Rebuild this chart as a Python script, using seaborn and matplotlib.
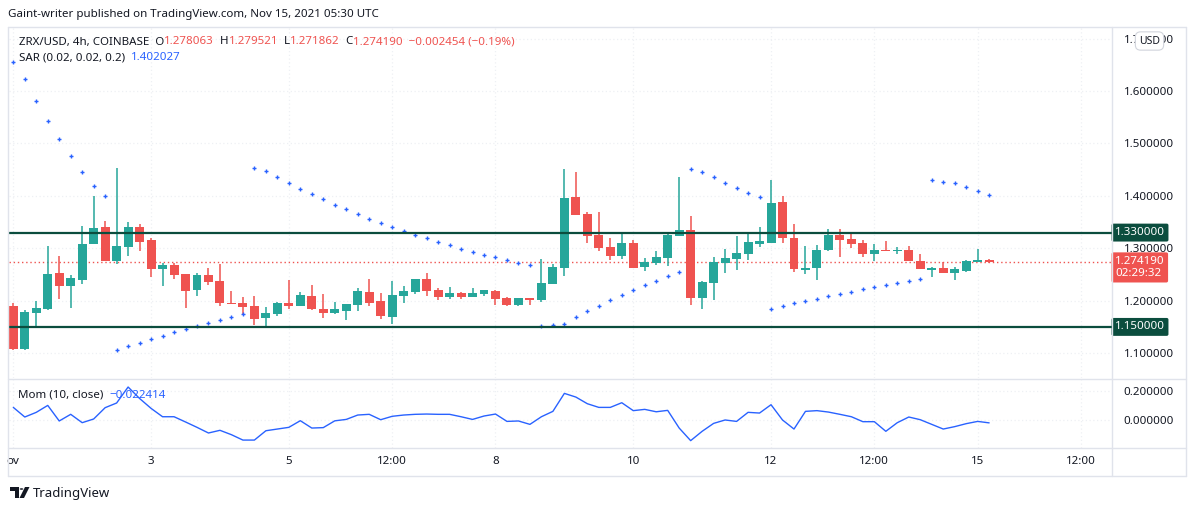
import numpy as np
import matplotlib
matplotlib.use("Agg")
import matplotlib.pyplot as plt
import seaborn as sns
from matplotlib.lines import Line2D
from matplotlib.patches import Polygon, Circle

# 4h candles, ZRX/USD, 1 Nov 00:00 -> 15 Nov 04:00
opens = [1.190, 1.108, 1.177, 1.184, 1.253, 1.229, 1.240, 1.308, 1.341, 1.276,
         1.303, 1.341, 1.316, 1.261, 1.268, 1.251, 1.221, 1.249, 1.238, 1.196,
         1.196, 1.190, 1.167, 1.175, 1.196, 1.190, 1.209, 1.184, 1.177, 1.180,
         1.192, 1.217, 1.200, 1.169, 1.209, 1.217, 1.242, 1.221, 1.207, 1.215,
         1.207, 1.213, 1.219, 1.205, 1.192, 1.205, 1.201, 1.232, 1.262, 1.398,
         1.365, 1.325, 1.303, 1.285, 1.310, 1.264, 1.272, 1.282, 1.324, 1.335,
         1.205, 1.234, 1.272, 1.280, 1.289, 1.308, 1.310, 1.388, 1.320, 1.259,
         1.262, 1.297, 1.325, 1.318, 1.310, 1.289, 1.297, 1.295, 1.297, 1.276,
         1.259, 1.262, 1.253, 1.257, 1.274, 1.278063]
highs = [1.195, 1.182, 1.200, 1.304, 1.285, 1.249, 1.343, 1.400, 1.352, 1.453,
         1.350, 1.346, 1.320, 1.272, 1.272, 1.251, 1.253, 1.262, 1.270, 1.219,
         1.207, 1.209, 1.188, 1.198, 1.240, 1.217, 1.230, 1.213, 1.198, 1.194,
         1.224, 1.242, 1.215, 1.238, 1.228, 1.242, 1.253, 1.224, 1.226, 1.217,
         1.224, 1.221, 1.221, 1.207, 1.205, 1.205, 1.280, 1.270, 1.451, 1.446,
         1.369, 1.369, 1.320, 1.327, 1.316, 1.282, 1.295, 1.327, 1.436, 1.362,
         1.238, 1.283, 1.299, 1.324, 1.327, 1.341, 1.430, 1.400, 1.347, 1.304,
         1.306, 1.337, 1.337, 1.327, 1.316, 1.308, 1.314, 1.303, 1.304, 1.289,
         1.264, 1.274, 1.264, 1.278, 1.299, 1.279521]
lows = [1.106, 1.106, 1.151, 1.182, 1.203, 1.186, 1.231, 1.308, 1.276, 1.270,
        1.285, 1.295, 1.245, 1.228, 1.242, 1.186, 1.209, 1.230, 1.190, 1.194,
        1.175, 1.154, 1.152, 1.171, 1.184, 1.190, 1.182, 1.167, 1.175, 1.163,
        1.180, 1.190, 1.165, 1.156, 1.196, 1.213, 1.209, 1.201, 1.203, 1.203,
        1.207, 1.209, 1.192, 1.190, 1.190, 1.192, 1.198, 1.232, 1.247, 1.364,
        1.310, 1.295, 1.278, 1.280, 1.262, 1.257, 1.268, 1.266, 1.324, 1.192,
        1.184, 1.201, 1.253, 1.259, 1.278, 1.303, 1.310, 1.310, 1.255, 1.251,
        1.240, 1.295, 1.283, 1.301, 1.283, 1.276, 1.295, 1.289, 1.276, 1.261,
        1.245, 1.253, 1.240, 1.255, 1.274, 1.271862]
closes = [1.108, 1.179, 1.186, 1.251, 1.229, 1.243, 1.308, 1.339, 1.276, 1.304,
          1.341, 1.312, 1.261, 1.268, 1.249, 1.219, 1.249, 1.236, 1.196, 1.194,
          1.188, 1.165, 1.177, 1.196, 1.190, 1.211, 1.184, 1.177, 1.184, 1.194,
          1.219, 1.196, 1.171, 1.211, 1.219, 1.242, 1.219, 1.207, 1.215, 1.207,
          1.215, 1.221, 1.203, 1.192, 1.205, 1.201, 1.234, 1.264, 1.396, 1.364,
          1.324, 1.301, 1.285, 1.310, 1.262, 1.274, 1.283, 1.325, 1.335, 1.205,
          1.236, 1.274, 1.282, 1.291, 1.312, 1.314, 1.386, 1.320, 1.261, 1.262,
          1.297, 1.325, 1.316, 1.308, 1.289, 1.297, 1.295, 1.297, 1.276, 1.261,
          1.262, 1.253, 1.261, 1.276, 1.278, 1.274190]
sar = [1.655, 1.6225, 1.5805, 1.5424, 1.508, 1.4756, 1.445, 1.418, 1.399,
       1.1053, 1.113, 1.1187, 1.1263, 1.132, 1.140, 1.1454, 1.152, 1.157, 1.1626, 1.168, 1.174,
       1.4527, 1.4469, 1.4355, 1.424, 1.4126, 1.403, 1.3935, 1.382, 1.3744, 1.3649, 1.3553,
       1.3477, 1.340, 1.333, 1.3248, 1.319, 1.3115, 1.3057, 1.298, 1.2924, 1.2866, 1.2828,
       1.277, 1.2714, 1.2676,
       1.152, 1.153, 1.155, 1.168, 1.180, 1.1893, 1.2008, 1.2103, 1.2198, 1.2294, 1.237,
       1.2466, 1.2542,
       1.4508, 1.445, 1.4355, 1.424, 1.4145, 1.405, 1.3973,
       1.1836, 1.1893, 1.195, 1.1989, 1.2027, 1.2084, 1.2122, 1.216, 1.2218, 1.2256, 1.2294,
       1.2332, 1.237, 1.2408,
       1.4298, 1.426, 1.424, 1.4164, 1.4088, 1.402027]
mom = [0.087, 0.019, 0.052, 0.101, -0.009, 0.038, -0.021, 0.005, 0.085, 0.118,
       0.231, 0.150, 0.080, 0.021, 0.021, -0.016, -0.054, -0.094, -0.075, -0.106,
       -0.144, -0.144, -0.078, -0.066, -0.054, -0.007, -0.059, -0.056, -0.008, 0.002,
       0.033, 0.038, 0.000, 0.024, 0.033, 0.038, 0.040, 0.038, 0.038, 0.021,
       0.002, 0.026, 0.040, -0.012, -0.009, -0.033, 0.021, 0.059, 0.186, 0.160,
       0.113, 0.087, 0.087, 0.120, 0.064, 0.073, 0.056, 0.066, -0.059, -0.148,
       -0.082, -0.026, -0.002, -0.012, 0.052, 0.047, 0.106, -0.002, -0.066, 0.059,
       0.064, 0.054, 0.038, 0.021, -0.014, -0.014, -0.082, -0.021, 0.019, 0.000,
       -0.033, -0.066, -0.049, -0.028, -0.012, -0.0224]

levels = [1.33, 1.15]
price_ticks = [1.1, 1.2, 1.3, 1.4, 1.5, 1.6, 1.7]
mom_ticks = [0.0, 0.2]
time_ticks = [0, 12, 24, 33, 42, 54, 66, 75, 84, 93]
time_labels = ["ov", "3", "5", "12:00", "8", "10", "12", "12:00", "15", "12:00"]

UP, DOWN = "#26a69a", "#ef5350"
BLUE = "#2962ff"
LEVEL = "#0b4d3e"
TXT = "#131722"
GRID = "#eef0f4"
BORDER = "#e0e3eb"

sns.set_theme(style="white")
plt.rcParams['font.family'] = ['Noto Sans', 'DejaVu Sans']
plt.rcParams['font.size'] = 8.3

W, H = 1194, 511
fig = plt.figure(figsize=(W / 100, H / 100), dpi=100)
fig.patch.set_facecolor("white")


def fx(x):
    return x / W


def fy(y):
    return 1 - y / H


ax = fig.add_axes([fx(9), fy(378), fx(1112) - fx(9), (378 - 28) / H])
ax2 = fig.add_axes([fx(9), fy(448), fx(1112) - fx(9), (448 - 380) / H])

x = np.arange(len(closes))
o = np.array(opens)
c = np.array(closes)
up = c >= o
colors = np.where(up, UP, DOWN)

# candles
ax.vlines(x, lows, highs, colors=colors, linewidth=1.1, zorder=3)
body = np.maximum(np.abs(c - o), 0.0016)
ax.bar(x, body, bottom=np.minimum(o, c), width=0.78, color=colors, linewidth=0, zorder=4)

# parabolic SAR
sns.scatterplot(x=x, y=sar, marker="+", s=9, color=BLUE, linewidth=1.0, ax=ax, zorder=5)

# support / resistance lines and current price
for lv in levels:
    ax.axhline(lv, color=LEVEL, lw=1.6, zorder=6)
ax.axhline(closes[-1], color=DOWN, lw=1, ls=(0, (1, 2)), zorder=2)

ax.set_xlim(-0.375, 95.7)
ax.set_ylim(1.0525, 1.7204)
ax.set_yticks(price_ticks)
ax.yaxis.set_major_formatter(matplotlib.ticker.FormatStrFormatter("%.6f"))
ax.yaxis.tick_right()
ax.tick_params(axis="y", length=0, pad=8.5, labelsize=8.3, labelcolor=TXT)
ax.set_xticks(time_ticks)
ax.tick_params(axis="x", length=0, labelbottom=False)
ax.grid(True, color=GRID, ls=(0, (1, 2)), lw=0.9)
for s in ax.spines.values():
    s.set_visible(False)

# momentum pane
sns.lineplot(x=x, y=mom, color=BLUE, lw=1, ax=ax2)
ax2.set_xlim(-0.375, 95.7)
ax2.set_ylim(-0.2, 0.2806)
ax2.set_yticks(mom_ticks)
ax2.yaxis.set_major_formatter(matplotlib.ticker.FormatStrFormatter("%.6f"))
ax2.yaxis.tick_right()
ax2.tick_params(axis="y", length=0, pad=8.5, labelsize=8.3, labelcolor=TXT)
ax2.set_xticks(time_ticks)
ax2.set_xticklabels(time_labels)
ax2.tick_params(axis="x", length=0, pad=6, labelsize=8.3, labelcolor=TXT)
ax2.grid(True, color=GRID, ls=(0, (1, 2)), lw=0.9)
ax2.set_xlabel("")
ax2.set_ylabel("")
for s in ax2.spines.values():
    s.set_visible(False)

# price-axis tags
for lv in levels:
    ax.annotate(f"{lv:.6f}", xy=(1, lv), xycoords=("axes fraction", "data"),
                xytext=(3, 0), textcoords="offset pixels", ha="left", va="center",
                color="white", fontsize=8.3, fontweight="bold", annotation_clip=False,
                bbox=dict(boxstyle="round,pad=0.3,rounding_size=0.15", fc=LEVEL, ec="none"))
ax.annotate(f"{closes[-1]:.6f}\n02:29:32", xy=(1, closes[-1]), xycoords=("axes fraction", "data"),
            xytext=(3, 6), textcoords="offset pixels", ha="left", va="top",
            color="white", fontsize=8.3, fontweight="bold", linespacing=1.15,
            annotation_clip=False,
            bbox=dict(boxstyle="round,pad=0.3,rounding_size=0.15", fc=DOWN, ec="none"))

# currency badge sits on top of the 1.7 label, as in TradingView
fig.text(fx(1149.5), fy(41), "USD", ha="center", va="center", fontsize=7.5, color=TXT,
         bbox=dict(boxstyle="round,pad=0.35,rounding_size=0.5", fc="white", ec="#d1d4dc", lw=0.8))


# frame lines
def hline(y, a=8, b=1186):
    fig.add_artist(Line2D([fx(a), fx(b)], [fy(y), fy(y)], color=BORDER, lw=1))


def vline(xx, a=27, b=476):
    fig.add_artist(Line2D([fx(xx), fx(xx)], [fy(a), fy(b)], color=BORDER, lw=1))


for yy in [27, 379, 448, 476]:
    hline(yy)
for xx in [8, 1112, 1186]:
    vline(xx)

# legend texts, laid out piece by piece
renderer = fig.canvas.get_renderer()


def pieces(x0, y0, parts, size=8.3):
    xx = x0
    for txt, col in parts:
        t = fig.text(fx(xx), fy(y0), txt, ha="left", va="center", color=col, fontsize=size)
        xx += t.get_window_extent(renderer).width


fig.text(fx(8), fy(14), "Gaint-writer published on TradingView.com, Nov 15, 2021 05:30 UTC",
         ha="left", va="center", color=TXT, fontsize=8.3)
pieces(19, 42, [("ZRX/USD, 4h, COINBASE  O", TXT), ("1.278063", DOWN), ("  H", TXT),
                ("1.279521", DOWN), ("  L", TXT), ("1.271862", DOWN), ("  C", TXT),
                ("1.274190  \u22120.002454 (\u22120.19%)", DOWN)])
pieces(19, 58, [("SAR (0.02, 0.02, 0.2)  ", TXT), ("1.402027", BLUE)])
pieces(18, 395, [("Mom (10, close)  ", TXT), ("\u22120.022414", BLUE)])

# TradingView footer
fig.add_artist(Polygon([(fx(10), fy(487)), (fx(19), fy(487)), (fx(19), fy(498)),
                        (fx(15), fy(498)), (fx(15), fy(491)), (fx(10), fy(491))],
                       closed=True, transform=fig.transFigure, fc=TXT, ec="none"))
fig.add_artist(Circle((fx(21.5), fy(489)), 1.8 / W, transform=fig.transFigure, fc=TXT, ec="none"))
fig.add_artist(Polygon([(fx(25), fy(487)), (fx(29.5), fy(487)), (fx(24), fy(498)),
                        (fx(19.5), fy(498))],
                       closed=True, transform=fig.transFigure, fc=TXT, ec="none"))
fig.text(fx(33), fy(493), "TradingView", ha="left", va="center", color=TXT, fontsize=9.5)

fig.savefig("out.png", dpi=100, facecolor="white")
